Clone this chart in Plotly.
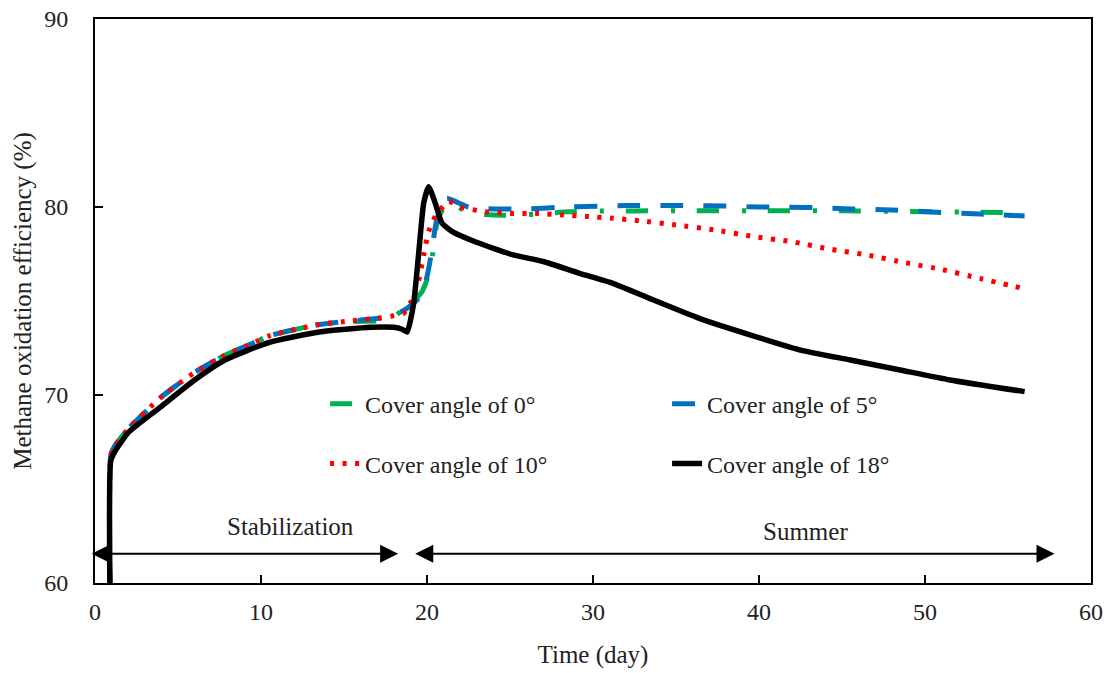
import plotly.graph_objects as go

# ---- data ----
days_a0 = [0.9, 0.95, 1.2, 2, 4, 6, 7.8, 9.5, 10.5, 13.5, 15.5, 17.2, 17.9, 18.7, 19.2, 19.7, 20.2, 20.6, 21.0, 21.3, 21.7, 22.5, 24, 25.4, 27, 28.5, 30, 35, 40, 45, 50, 56]
eff_a0 = [59.5, 66.8, 67.3, 68.2, 69.9, 71.2, 72.1, 72.75, 73.15, 73.75, 73.9, 73.95, 74.05, 74.7, 75.0, 75.5, 76.65, 79.15, 80.0, 80.3, 80.1, 79.7, 79.57, 79.57, 79.65, 79.75, 79.78, 79.8, 79.8, 79.8, 79.75, 79.7]

days_a5 = [0.9, 0.95, 1.2, 2, 4, 6, 7.8, 9.5, 10.5, 13.5, 15.5, 17.2, 17.65, 18.5, 19.0, 19.4, 19.7, 20.0, 20.3, 20.5, 20.8, 21.2, 21.7, 22.5, 24, 26, 28.5, 32, 35, 38, 40, 43, 45.5, 48, 50.7, 53.3, 56]
eff_a5 = [59.5, 66.8, 67.3, 68.2, 69.9, 71.2, 72.1, 72.75, 73.15, 73.75, 73.95, 74.1, 74.2, 74.45, 74.75, 75.05, 75.4, 76.3, 77.7, 78.95, 80.0, 80.46, 80.3, 80.0, 79.9, 79.9, 80.0, 80.08, 80.08, 80.05, 80.0, 79.98, 79.9, 79.84, 79.72, 79.63, 79.52]

days_a10 = [0.9, 0.95, 1.2, 2, 4, 6, 7.8, 9.5, 10.5, 13.5, 15.5, 17.2, 17.9, 18.6, 19.0, 19.5, 19.8, 20.1, 20.5, 21.3, 22.0, 23.5, 25.1, 26.6, 28.2, 29.6, 31.2, 32.8, 35, 37.35, 39.7, 42, 44.2, 46.5, 48.8, 51, 53.3, 56]
eff_a10 = [59.5, 66.8, 67.3, 68.2, 69.9, 71.2, 72.1, 72.75, 73.15, 73.75, 73.95, 74.1, 74.2, 74.35, 74.9, 76.1, 77.45, 78.7, 79.5, 80.3, 80.0, 79.75, 79.66, 79.66, 79.57, 79.5, 79.4, 79.27, 79.04, 78.78, 78.42, 78.15, 77.77, 77.45, 77.04, 76.68, 76.2, 75.65]

days_a18 = [0.9, 0.95, 1.2, 2, 4, 6, 7.8, 10.5, 13.5, 16.6, 18.0, 18.5, 18.8, 19.2, 19.5, 19.8, 20.1, 20.5, 20.9, 21.5, 22.9, 25.2, 27, 29.2, 31.2, 33.4, 36.4, 39.5, 42.5, 45.5, 48.5, 51.5, 56]
eff_a18 = [59.5, 66.5, 67.0, 68.0, 69.4, 70.8, 71.85, 72.8, 73.35, 73.6, 73.6, 73.5, 73.35, 74.9, 77.55, 80.2, 81.08, 80.2, 79.15, 78.7, 78.15, 77.45, 77.1, 76.47, 75.94, 75.14, 74.08, 73.19, 72.39, 71.86, 71.33, 70.8, 70.18]

x_ticks = [0, 10, 20, 30, 40, 50, 60]
y_ticks = [60, 70, 80, 90]

FONT = "Liberation Serif, Times New Roman, serif"

fig = go.Figure()
fig.add_trace(go.Scatter(x=days_a0, y=eff_a0, mode="lines", name="Cover angle of 0°",
                         line=dict(color="#00B050", width=5, dash="22px,23px,4px,22px", shape="spline", smoothing=0.5),
                         legend="legend"))
fig.add_trace(go.Scatter(x=days_a5, y=eff_a5, mode="lines", name="Cover angle of 5°",
                         line=dict(color="#0070C0", width=5, dash="23px,20px", shape="spline", smoothing=0.5),
                         legend="legend"))
fig.add_trace(go.Scatter(x=days_a10, y=eff_a10, mode="lines", name="Cover angle of 10°",
                         line=dict(color="#FF0000", width=5, dash="4px,8.5px", shape="spline", smoothing=0.5),
                         legend="legend2"))
fig.add_trace(go.Scatter(x=days_a18, y=eff_a18, mode="lines", name="Cover angle of 18°",
                         line=dict(color="#000000", width=5.5, shape="spline", smoothing=0.5),
                         legend="legend2"))

axis_common = dict(showline=True, linecolor="black", linewidth=2, mirror=True,
                   ticks="inside", ticklen=8, tickwidth=2, tickcolor="black",
                   showgrid=False, zeroline=False, automargin=True,
                   ticklabeloverflow="allow",
                   tickfont=dict(family=FONT, size=24, color="#222"))

fig.update_xaxes(range=[0, 60], tickvals=x_ticks, ticklabelstandoff=6,
                 title=dict(text="Time (day)", font=dict(family=FONT, size=25, color="#222"), standoff=22),
                 **axis_common)
fig.update_yaxes(range=[60, 90], tickvals=y_ticks, ticklabelstandoff=20,
                 title=dict(text="Methane oxidation efficiency (%)", font=dict(family=FONT, size=25, color="#222"), standoff=5),
                 **axis_common)

legend_common = dict(orientation="h", entrywidth=297, entrywidthmode="pixels",
                     xanchor="left", yanchor="middle", bgcolor="rgba(0,0,0,0)",
                     font=dict(family=FONT, size=24, color="#222"), itemwidth=30)
fig.update_layout(
    legend=dict(x=0.231, y=0.317, **legend_common),
    legend2=dict(x=0.231, y=0.211, **legend_common),
)

# arrows and period labels
arrow_y = 61.55
arrow = dict(xref="x", yref="y", axref="x", ayref="y", text="", showarrow=True,
             arrowhead=2, startarrowhead=2, arrowside="end+start", arrowsize=1.8,
             startarrowsize=1.8, arrowwidth=2, arrowcolor="black")
fig.add_annotation(x=-0.2, y=arrow_y, ax=18.35, ay=arrow_y, **arrow)
fig.add_annotation(x=57.8, y=arrow_y, ax=19.2, ay=arrow_y, **arrow)
fig.add_annotation(x=11.8, y=63.0, text="Stabilization", showarrow=False,
                   font=dict(family=FONT, size=25, color="#222"))
fig.add_annotation(x=42.8, y=62.75, text="Summer", showarrow=False,
                   font=dict(family=FONT, size=25, color="#222"))

fig.update_layout(width=1115, height=673, margin=dict(l=95, r=24, t=19, b=90, autoexpand=False),
                  plot_bgcolor="white", paper_bgcolor="white",
                  font=dict(family=FONT, color="#222"))

# remove the default page margin so the figure sits at the window's corner
fig.write_html("out.html", config={"displayModeBar": False},
               post_script="document.body.style.margin='0';")
